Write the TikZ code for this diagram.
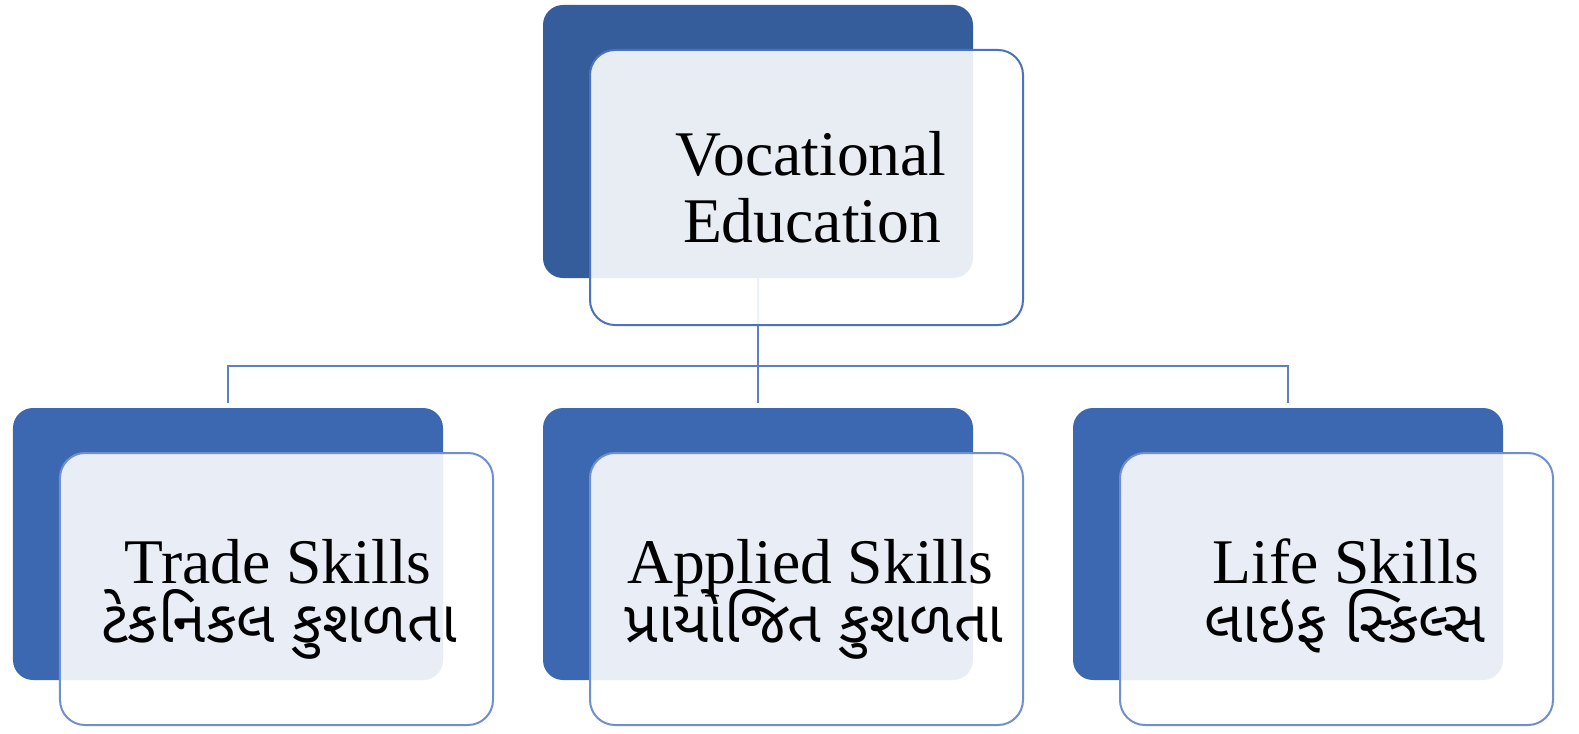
\documentclass[tikz,border=0pt]{standalone}
\usepackage{fontspec}
\setmainfont{Liberation Serif}
\newfontfamily\guj[Script=Gujarati]{Noto Sans Gujarati UI}
\definecolor{topback}{HTML}{355D9B}
\definecolor{botback}{HTML}{3C67B1}
\definecolor{topedge}{HTML}{4A72C0}
\definecolor{botedge}{HTML}{6F8FD0}
\definecolor{linkcol}{HTML}{5B7FC9}
\tikzset{
  backbox/.style={draw=none, fill=botback, rounded corners=10bp, minimum width=215bp, minimum height=136bp, inner sep=0pt},
  frontbox/.style={draw=botedge, line width=1bp, fill=white, fill opacity=0.89, rounded corners=12.5bp, minimum width=216.5bp, minimum height=136bp, inner sep=0pt},
  lat/.style={font=\fontsize{31.8bp}{33.5bp}\selectfont, inner sep=0pt, anchor=base, text=black},
  gu/.style={font=\guj\fontsize{29.6bp}{33bp}\selectfont, inner sep=0pt, anchor=base, text=black},
  link/.style={draw=linkcol, line width=1bp}
}
\begin{document}
\begin{tikzpicture}[x=0.5bp,y=-0.5bp]
\useasboundingbox (0,0) rectangle (1579,734);
% back boxes
\node[backbox, fill=topback, minimum height=136.5bp] (b0) at (758,141.5) {};
\node[backbox] (b1) at (228,544) {};
\node[backbox] (b2) at (758,544) {};
\node[backbox] (b3) at (1288,544) {};
% connectors
\coordinate (j0) at (758,366);
\coordinate (e1) at (228,403);
\coordinate (e2) at (758,403);
\coordinate (e3) at (1288,403);
\draw[link] (b0.south) -- (e2);
\draw[link] (e1) |- (j0) -| (e3);
% front boxes
\node[frontbox, draw=topedge, minimum height=137.5bp] (f0) at (806.5,187.5) {};
\node[frontbox] (f1) at (276.5,589) {};
\node[frontbox] (f2) at (806.5,589) {};
\node[frontbox] (f3) at (1336.5,589) {};
% texts
\node[lat] (t0a) at (811,175) {Vocational};
\node[lat] (t0b) at (812,242) {Education};
\node[lat] (t1a) at (278,583) {Trade Skills};
\node[gu] (t1b) at (279,642) {ટેકનિકલ કુશળતા};
\node[lat] (t2a) at (810,583) {Applied Skills};
\node[gu] (t2b) at (814,642) {પ્રાયોજિત કુશળતા};
\node[lat] (t3a) at (1346,583) {Life Skills};
\node[gu] (t3b) at (1345,642) {લાઇફ સ્કિલ્સ};
\end{tikzpicture}
\end{document}
